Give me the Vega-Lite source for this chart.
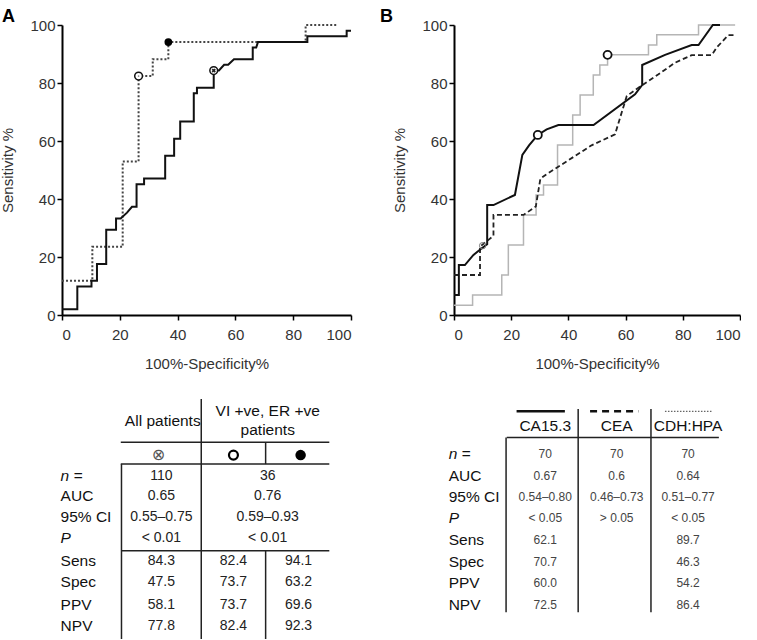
{
  "$schema": "https://vega.github.io/schema/vega-lite/v6.json",
  "background": "white",
  "padding": {"left": 0, "top": 8, "right": 0, "bottom": 0},
  "config": {
    "view": {"stroke": null},
    "font": "Liberation Sans",
    "axis": {
      "domainColor": "#000", "domainWidth": 2, "tickColor": "#000", "tickWidth": 1.5, "tickSize": 5,
      "labelFont": "Liberation Sans", "labelFontSize": 15, "labelColor": "#333", "labelPadding": 2,
      "titleFont": "Liberation Sans", "titleFontSize": 15, "titleFontWeight": "normal", "titleColor": "#333",
      "grid": false
    },
    "title": {"font": "Liberation Sans", "fontSize": 18, "fontWeight": "bold", "color": "#000", "anchor": "start", "frame": "group", "offset": 2, "dy": 10}
  },
  "datasets": {
    "rocA": [
      {"s":"all","o":1,"x":0,"y":2.0},{"s":"all","o":2,"x":5.3,"y":2.0},{"s":"all","o":3,"x":5.3,"y":9.8},{"s":"all","o":4,"x":10.2,"y":9.8},
      {"s":"all","o":5,"x":10.2,"y":11.8},{"s":"all","o":6,"x":12.1,"y":11.8},{"s":"all","o":7,"x":12.1,"y":17.6},{"s":"all","o":8,"x":15.3,"y":17.6},
      {"s":"all","o":9,"x":15.3,"y":29.4},{"s":"all","o":10,"x":18.7,"y":29.4},{"s":"all","o":11,"x":18.7,"y":33.3},{"s":"all","o":12,"x":20.3,"y":33.3},
      {"s":"all","o":13,"x":22.5,"y":35.3},{"s":"all","o":14,"x":24.2,"y":37.3},{"s":"all","o":15,"x":25.8,"y":37.3},{"s":"all","o":16,"x":25.8,"y":45.1},
      {"s":"all","o":17,"x":28.4,"y":45.1},{"s":"all","o":18,"x":28.4,"y":47.1},{"s":"all","o":19,"x":35.7,"y":47.1},{"s":"all","o":20,"x":35.7,"y":54.9},
      {"s":"all","o":21,"x":38.8,"y":54.9},{"s":"all","o":22,"x":38.8,"y":60.8},{"s":"all","o":23,"x":40.9,"y":60.8},{"s":"all","o":24,"x":40.9,"y":66.7},
      {"s":"all","o":25,"x":45.6,"y":66.7},{"s":"all","o":26,"x":45.6,"y":76.5},{"s":"all","o":27,"x":46.7,"y":76.5},{"s":"all","o":28,"x":46.7,"y":78.4},
      {"s":"all","o":29,"x":52.5,"y":78.4},{"s":"all","o":30,"x":52.5,"y":84.3},{"s":"all","o":31,"x":54.3,"y":84.3},{"s":"all","o":32,"x":56.1,"y":86.3},
      {"s":"all","o":33,"x":57.5,"y":86.3},{"s":"all","o":34,"x":59.5,"y":88.2},{"s":"all","o":35,"x":66.0,"y":88.2},{"s":"all","o":36,"x":66.0,"y":92.2},
      {"s":"all","o":37,"x":67.2,"y":92.2},{"s":"all","o":38,"x":67.8,"y":94.1},{"s":"all","o":39,"x":84.9,"y":94.1},{"s":"all","o":40,"x":84.9,"y":96.1},
      {"s":"all","o":41,"x":98.5,"y":96.1},{"s":"all","o":42,"x":98.5,"y":98.0},{"s":"all","o":43,"x":100,"y":98.0},
      {"s":"vi","o":1,"x":0,"y":11.8},{"s":"vi","o":2,"x":10.5,"y":11.8},{"s":"vi","o":3,"x":10.5,"y":23.5},{"s":"vi","o":4,"x":21.0,"y":23.5},
      {"s":"vi","o":5,"x":21.0,"y":52.9},{"s":"vi","o":6,"x":26.5,"y":52.9},{"s":"vi","o":7,"x":26.5,"y":82.4},{"s":"vi","o":8,"x":31.4,"y":82.4},
      {"s":"vi","o":9,"x":31.4,"y":88.2},{"s":"vi","o":10,"x":36.8,"y":88.2},{"s":"vi","o":11,"x":36.8,"y":94.1},{"s":"vi","o":12,"x":84.3,"y":94.1},
      {"s":"vi","o":13,"x":84.3,"y":100},{"s":"vi","o":14,"x":95.3,"y":100}
    ],
    "markA": [
      {"k":"cross","x":52.5,"y":84.3},{"k":"open","x":26.5,"y":82.4},{"k":"fill","x":36.8,"y":94.1}
    ],
    "rocB": [
      {"s":"CA15.3","o":1,"x":0,"y":6.9},{"s":"CA15.3","o":2,"x":1.7,"y":6.9},{"s":"CA15.3","o":3,"x":1.7,"y":17.2},{"s":"CA15.3","o":4,"x":3.8,"y":17.2},
      {"s":"CA15.3","o":5,"x":6.8,"y":20.7},{"s":"CA15.3","o":6,"x":9.7,"y":23.0},{"s":"CA15.3","o":7,"x":11.6,"y":24.4},{"s":"CA15.3","o":8,"x":11.6,"y":37.9},
      {"s":"CA15.3","o":9,"x":13.8,"y":37.9},{"s":"CA15.3","o":10,"x":21.3,"y":41.4},{"s":"CA15.3","o":11,"x":23.9,"y":55.2},{"s":"CA15.3","o":12,"x":26.3,"y":58.6},
      {"s":"CA15.3","o":13,"x":29.3,"y":62.1},{"s":"CA15.3","o":14,"x":32.4,"y":64.0},{"s":"CA15.3","o":15,"x":36.5,"y":65.5},{"s":"CA15.3","o":16,"x":48.8,"y":65.5},
      {"s":"CA15.3","o":17,"x":63.3,"y":76.1},{"s":"CA15.3","o":18,"x":65.8,"y":79.3},{"s":"CA15.3","o":19,"x":65.8,"y":86.2},{"s":"CA15.3","o":20,"x":73.8,"y":89.7},
      {"s":"CA15.3","o":21,"x":83.1,"y":93.1},{"s":"CA15.3","o":22,"x":85.5,"y":93.1},{"s":"CA15.3","o":23,"x":90.5,"y":100},{"s":"CA15.3","o":24,"x":93.0,"y":100},
      {"s":"CEA","o":1,"x":0,"y":13.8},{"s":"CEA","o":2,"x":9.1,"y":13.8},{"s":"CEA","o":3,"x":9.1,"y":23.6},{"s":"CEA","o":4,"x":13.8,"y":27.3},
      {"s":"CEA","o":5,"x":13.8,"y":34.5},{"s":"CEA","o":6,"x":24.3,"y":34.5},{"s":"CEA","o":7,"x":28.6,"y":37.4},{"s":"CEA","o":8,"x":30.2,"y":47.0},
      {"s":"CEA","o":9,"x":32.0,"y":48.3},{"s":"CEA","o":10,"x":48.1,"y":58.5},{"s":"CEA","o":11,"x":56.3,"y":62.3},{"s":"CEA","o":12,"x":60.4,"y":75.5},
      {"s":"CEA","o":13,"x":64.5,"y":78.4},{"s":"CEA","o":14,"x":71.5,"y":83.0},{"s":"CEA","o":15,"x":77.3,"y":87.0},{"s":"CEA","o":16,"x":83.1,"y":89.6},
      {"s":"CEA","o":17,"x":90.1,"y":89.6},{"s":"CEA","o":18,"x":91.9,"y":92.3},{"s":"CEA","o":19,"x":95.9,"y":96.5},{"s":"CEA","o":20,"x":98.3,"y":96.5},
      {"s":"CDH:HPA","o":1,"x":0,"y":3.4},{"s":"CDH:HPA","o":2,"x":6.5,"y":3.4},{"s":"CDH:HPA","o":3,"x":6.5,"y":6.9},{"s":"CDH:HPA","o":4,"x":16.7,"y":6.9},
      {"s":"CDH:HPA","o":5,"x":16.7,"y":13.8},{"s":"CDH:HPA","o":6,"x":19.0,"y":13.8},{"s":"CDH:HPA","o":7,"x":19.0,"y":24.1},{"s":"CDH:HPA","o":8,"x":24.3,"y":24.1},
      {"s":"CDH:HPA","o":9,"x":24.3,"y":34.5},{"s":"CDH:HPA","o":10,"x":28.7,"y":34.5},{"s":"CDH:HPA","o":11,"x":28.7,"y":41.4},{"s":"CDH:HPA","o":12,"x":31.3,"y":41.4},
      {"s":"CDH:HPA","o":13,"x":31.3,"y":44.8},{"s":"CDH:HPA","o":14,"x":36.2,"y":44.8},{"s":"CDH:HPA","o":15,"x":36.2,"y":58.6},{"s":"CDH:HPA","o":16,"x":41.5,"y":58.6},
      {"s":"CDH:HPA","o":17,"x":41.5,"y":69.0},{"s":"CDH:HPA","o":18,"x":44.1,"y":69.0},{"s":"CDH:HPA","o":19,"x":44.1,"y":75.9},{"s":"CDH:HPA","o":20,"x":48.7,"y":75.9},
      {"s":"CDH:HPA","o":21,"x":48.7,"y":82.8},{"s":"CDH:HPA","o":22,"x":51.0,"y":82.8},{"s":"CDH:HPA","o":23,"x":51.0,"y":86.2},{"s":"CDH:HPA","o":24,"x":53.7,"y":86.2},
      {"s":"CDH:HPA","o":25,"x":53.7,"y":89.7},{"s":"CDH:HPA","o":26,"x":68.0,"y":89.7},{"s":"CDH:HPA","o":27,"x":68.0,"y":93.1},{"s":"CDH:HPA","o":28,"x":70.9,"y":93.1},
      {"s":"CDH:HPA","o":29,"x":70.9,"y":96.6},{"s":"CDH:HPA","o":30,"x":85.5,"y":96.6},{"s":"CDH:HPA","o":31,"x":85.5,"y":100},{"s":"CDH:HPA","o":32,"x":98.3,"y":100}
    ],
    "markB": [
      {"k":"open","x":29.3,"y":62.1},{"k":"open","x":53.7,"y":89.7},{"k":"small","x":10.0,"y":23.9}
    ],
    "tA": [
      {"k":"h","c":1.55,"r":1.02,"t":"All patients"},
      {"k":"h","c":3.05,"r":0.55,"t":"VI +ve, ER +ve"},
      {"k":"h","c":3.05,"r":1.44,"t":"patients"},
      {"k":"sym","c":1.49,"r":2.63,"t":"⊗"},
      {"k":"open","c":2.56,"r":2.63,"t":""},
      {"k":"fill","c":3.52,"r":2.63,"t":""},
      {"k":"li","c":0.09,"r":3.6,"t":"n ="},
      {"k":"l","c":0.09,"r":4.56,"t":"AUC"},
      {"k":"l","c":0.09,"r":5.55,"t":"95% CI"},
      {"k":"li","c":0.09,"r":6.53,"t":"P"},
      {"k":"l","c":0.09,"r":7.58,"t":"Sens"},
      {"k":"l","c":0.09,"r":8.59,"t":"Spec"},
      {"k":"l","c":0.09,"r":9.66,"t":"PPV"},
      {"k":"l","c":0.09,"r":10.66,"t":"NPV"},
      {"k":"v","c":1.53,"r":3.6,"t":"110"},{"k":"v","c":3.05,"r":3.6,"t":"36"},
      {"k":"v","c":1.53,"r":4.56,"t":"0.65"},{"k":"v","c":3.05,"r":4.56,"t":"0.76"},
      {"k":"v","c":1.53,"r":5.55,"t":"0.55–0.75"},{"k":"v","c":3.05,"r":5.55,"t":"0.59–0.93"},
      {"k":"v","c":1.53,"r":6.53,"t":"< 0.01"},{"k":"v","c":3.05,"r":6.53,"t":"< 0.01"},
      {"k":"v","c":1.53,"r":7.58,"t":"84.3"},{"k":"v","c":2.56,"r":7.58,"t":"82.4"},{"k":"v","c":3.49,"r":7.58,"t":"94.1"},
      {"k":"v","c":1.53,"r":8.59,"t":"47.5"},{"k":"v","c":2.56,"r":8.59,"t":"73.7"},{"k":"v","c":3.49,"r":8.59,"t":"63.2"},
      {"k":"v","c":1.53,"r":9.66,"t":"58.1"},{"k":"v","c":2.56,"r":9.66,"t":"73.7"},{"k":"v","c":3.49,"r":9.66,"t":"69.6"},
      {"k":"v","c":1.53,"r":10.66,"t":"77.8"},{"k":"v","c":2.56,"r":10.66,"t":"82.4"},{"k":"v","c":3.49,"r":10.66,"t":"92.3"}
    ],
    "ruleA": [
      {"c":2.10,"c2":2.10,"r":0,"r2":11.25},
      {"c":0.95,"c2":3.93,"r":2.03,"r2":2.03},
      {"c":3.02,"c2":3.02,"r":2.03,"r2":3.05},
      {"c":0.95,"c2":3.93,"r":3.05,"r2":3.05},
      {"c":0.96,"c2":0.96,"r":3.05,"r2":11.25},
      {"c":0.96,"c2":3.93,"r":7.11,"r2":7.11},
      {"c":3.02,"c2":3.02,"r":7.11,"r2":11.25}
    ],
    "tB": [
      {"k":"h","c":1.48,"r":1.25,"t":"CA15.3"},
      {"k":"h","c":2.5,"r":1.25,"t":"CEA"},
      {"k":"h","c":3.52,"r":1.25,"t":"CDH:HPA"},
      {"k":"li","c":0.1,"r":2.58,"t":"n ="},
      {"k":"l","c":0.1,"r":3.6,"t":"AUC"},
      {"k":"l","c":0.1,"r":4.58,"t":"95% CI"},
      {"k":"li","c":0.1,"r":5.59,"t":"P"},
      {"k":"l","c":0.1,"r":6.61,"t":"Sens"},
      {"k":"l","c":0.1,"r":7.63,"t":"Spec"},
      {"k":"l","c":0.1,"r":8.64,"t":"PPV"},
      {"k":"l","c":0.1,"r":9.66,"t":"NPV"},
      {"k":"v","c":1.48,"r":2.58,"t":"70"},{"k":"v","c":2.5,"r":2.58,"t":"70"},{"k":"v","c":3.52,"r":2.58,"t":"70"},
      {"k":"v","c":1.48,"r":3.6,"t":"0.67"},{"k":"v","c":2.5,"r":3.6,"t":"0.6"},{"k":"v","c":3.52,"r":3.6,"t":"0.64"},
      {"k":"v","c":1.48,"r":4.58,"t":"0.54–0.80"},{"k":"v","c":2.5,"r":4.58,"t":"0.46–0.73"},{"k":"v","c":3.52,"r":4.58,"t":"0.51–0.77"},
      {"k":"v","c":1.48,"r":5.59,"t":"< 0.05"},{"k":"v","c":2.5,"r":5.59,"t":"> 0.05"},{"k":"v","c":3.52,"r":5.59,"t":"< 0.05"},
      {"k":"v","c":1.48,"r":6.61,"t":"62.1"},{"k":"v","c":3.52,"r":6.61,"t":"89.7"},
      {"k":"v","c":1.48,"r":7.63,"t":"70.7"},{"k":"v","c":3.52,"r":7.63,"t":"46.3"},
      {"k":"v","c":1.48,"r":8.64,"t":"60.0"},{"k":"v","c":3.52,"r":8.64,"t":"54.2"},
      {"k":"v","c":1.48,"r":9.66,"t":"72.5"},{"k":"v","c":3.52,"r":9.66,"t":"86.4"}
    ],
    "ruleB": [
      {"k":"grid","c":0.92,"c2":0.92,"r":1.8,"r2":10.0},
      {"k":"grid","c":1.95,"c2":1.95,"r":0.47,"r2":10.0},
      {"k":"grid","c":2.99,"c2":2.99,"r":0.47,"r2":10.0},
      {"k":"grid","c":0.93,"c2":3.96,"r":1.8,"r2":1.8},
      {"k":"solid","c":1.07,"c2":1.76,"r":0.58,"r2":0.58},
      {"k":"dashed","c":2.12,"c2":2.81,"r":0.58,"r2":0.58},
      {"k":"dotted","c":3.19,"c2":3.86,"r":0.58,"r2":0.58}
    ]
  },
  "bounds": "flush",
  "columns": 2,
  "spacing": {"row": 84, "column": 103},
  "concat": [
    {
      "width": 289, "height": 290,
      "title": {"text": "A", "dx": -60},
      "encoding": {
        "x": {"field": "x", "type": "quantitative", "scale": {"domain": [0, 100], "nice": false}, "axis": {"values": [0,20,40,60,80,100], "title": "100%-Specificity%", "labelPadding": 7, "titlePadding": 14}},
        "y": {"field": "y", "type": "quantitative", "scale": {"domain": [0, 100], "nice": false}, "axis": {"values": [0,20,40,60,80,100], "title": "Sensitivity %", "titlePadding": 14}}
      },
      "layer": [
        {"data": {"name": "rocA"}, "transform": [{"filter": "datum.s=='vi'"}], "mark": {"type": "line", "color": "#444", "strokeWidth": 2, "strokeDash": [2, 2]}, "encoding": {"order": {"field": "o", "type": "quantitative"}}},
        {"data": {"name": "rocA"}, "transform": [{"filter": "datum.s=='all'"}], "mark": {"type": "line", "color": "#111", "strokeWidth": 2}, "encoding": {"order": {"field": "o", "type": "quantitative"}}},
        {"data": {"name": "markA"}, "transform": [{"filter": "datum.k!='fill'"}], "mark": {"type": "point", "shape": "circle", "filled": true, "fill": "white", "stroke": "#111", "strokeWidth": 1.5, "size": 60, "opacity": 1}},
        {"data": {"name": "markA"}, "transform": [{"filter": "datum.k=='fill'"}], "mark": {"type": "point", "shape": "circle", "filled": true, "fill": "#000", "size": 60, "opacity": 1}},
        {"data": {"name": "markA"}, "transform": [{"filter": "datum.k=='cross'"}], "mark": {"type": "point", "shape": "cross", "angle": 45, "filled": true, "fill": "#222", "size": 18, "opacity": 1}},
        {"data": {"name": "markA"}, "transform": [{"filter": "datum.k=='open'"}], "mark": {"type": "point", "shape": "circle", "filled": true, "fill": "#888", "size": 3, "opacity": 1}}
      ]
    },
    {
      "width": 286, "height": 290,
      "title": {"text": "B", "dx": -74},
      "encoding": {
        "x": {"field": "x", "type": "quantitative", "scale": {"domain": [0, 100], "nice": false}, "axis": {"values": [0,20,40,60,80,100], "title": "100%-Specificity%", "labelPadding": 7, "titlePadding": 14}},
        "y": {"field": "y", "type": "quantitative", "scale": {"domain": [0, 100], "nice": false}, "axis": {"values": [0,20,40,60,80,100], "title": "Sensitivity %", "titlePadding": 14}}
      },
      "layer": [
        {"data": {"name": "rocB"}, "transform": [{"filter": "datum.s=='CDH:HPA'"}], "mark": {"type": "line", "color": "#b5b5b5", "strokeWidth": 1.5}, "encoding": {"order": {"field": "o", "type": "quantitative"}}},
        {"data": {"name": "rocB"}, "transform": [{"filter": "datum.s=='CEA'"}], "mark": {"type": "line", "color": "#222", "strokeWidth": 1.8, "strokeDash": [5, 3]}, "encoding": {"order": {"field": "o", "type": "quantitative"}}},
        {"data": {"name": "rocB"}, "transform": [{"filter": "datum.s=='CA15.3'"}], "mark": {"type": "line", "color": "#111", "strokeWidth": 2}, "encoding": {"order": {"field": "o", "type": "quantitative"}}},
        {"data": {"name": "markB"}, "transform": [{"filter": "datum.k=='open'"}], "mark": {"type": "point", "shape": "circle", "filled": true, "fill": "white", "stroke": "#111", "strokeWidth": 1.8, "size": 65, "opacity": 1}},
        {"data": {"name": "markB"}, "transform": [{"filter": "datum.k=='small'"}], "mark": {"type": "point", "shape": "circle", "filled": false, "stroke": "#777", "strokeWidth": 1, "size": 40, "opacity": 1}}
      ]
    },
    {
      "width": 289, "height": 240,
      "data": {"name": "tA"},
      "encoding": {
        "x": {"field": "c", "type": "quantitative", "scale": {"domain": [0.11, 4.24], "nice": false, "zero": false}, "axis": null},
        "y": {"field": "r", "type": "quantitative", "scale": {"domain": [0, 11.25], "reverse": true, "nice": false, "zero": false}, "axis": null}
      },
      "layer": [
        {"data": {"name": "ruleA"}, "mark": {"type": "rule", "color": "#222", "strokeWidth": 1.5}, "encoding": {"x2": {"field": "c2"}, "y2": {"field": "r2"}}},
        {"transform": [{"filter": "datum.k=='h'"}], "mark": {"type": "text", "fontSize": 15.5, "color": "#111", "align": "center", "baseline": "middle"}, "encoding": {"text": {"field": "t"}}},
        {"transform": [{"filter": "datum.k=='l'"}], "mark": {"type": "text", "fontSize": 15.5, "color": "#111", "align": "left", "baseline": "middle"}, "encoding": {"text": {"field": "t"}}},
        {"transform": [{"filter": "datum.k=='li'"}], "mark": {"type": "text", "fontSize": 15.5, "fontStyle": "italic", "color": "#111", "align": "left", "baseline": "middle"}, "encoding": {"text": {"field": "t"}}},
        {"transform": [{"filter": "datum.k=='v'"}], "mark": {"type": "text", "fontSize": 14, "color": "#222", "align": "center", "baseline": "middle"}, "encoding": {"text": {"field": "t"}}},
        {"transform": [{"filter": "datum.k=='sym'"}], "mark": {"type": "text", "font": "DejaVu Sans", "fontSize": 16, "color": "#555", "align": "center", "baseline": "middle"}, "encoding": {"text": {"field": "t"}}},
        {"transform": [{"filter": "datum.k=='open'"}], "mark": {"type": "point", "shape": "circle", "filled": true, "fill": "white", "stroke": "#000", "strokeWidth": 2.2, "size": 80, "opacity": 1}},
        {"transform": [{"filter": "datum.k=='fill'"}], "mark": {"type": "point", "shape": "circle", "filled": true, "fill": "#000", "size": 110, "opacity": 1}}
      ]
    },
    {
      "width": 286, "height": 240,
      "data": {"name": "tB"},
      "encoding": {
        "x": {"field": "c", "type": "quantitative", "scale": {"domain": [0.176, 4.262], "nice": false, "zero": false}, "axis": null},
        "y": {"field": "r", "type": "quantitative", "scale": {"domain": [0, 11.25], "reverse": true, "nice": false, "zero": false}, "axis": null}
      },
      "layer": [
        {"data": {"name": "ruleB"}, "transform": [{"filter": "datum.k=='grid'"}], "mark": {"type": "rule", "color": "#222", "strokeWidth": 1.5}, "encoding": {"x2": {"field": "c2"}, "y2": {"field": "r2"}}},
        {"data": {"name": "ruleB"}, "transform": [{"filter": "datum.k=='solid'"}], "mark": {"type": "rule", "color": "#111", "strokeWidth": 2.5}, "encoding": {"x2": {"field": "c2"}, "y2": {"field": "r2"}}},
        {"data": {"name": "ruleB"}, "transform": [{"filter": "datum.k=='dashed'"}], "mark": {"type": "rule", "color": "#111", "strokeWidth": 2.5, "strokeDash": [7, 5]}, "encoding": {"x2": {"field": "c2"}, "y2": {"field": "r2"}}},
        {"data": {"name": "ruleB"}, "transform": [{"filter": "datum.k=='dotted'"}], "mark": {"type": "rule", "color": "#666", "strokeWidth": 1.2, "strokeDash": [1.5, 1.5]}, "encoding": {"x2": {"field": "c2"}, "y2": {"field": "r2"}}},
        {"transform": [{"filter": "datum.k=='h'"}], "mark": {"type": "text", "fontSize": 15.5, "color": "#111", "align": "center", "baseline": "middle"}, "encoding": {"text": {"field": "t"}}},
        {"transform": [{"filter": "datum.k=='l'"}], "mark": {"type": "text", "fontSize": 15.5, "color": "#111", "align": "left", "baseline": "middle"}, "encoding": {"text": {"field": "t"}}},
        {"transform": [{"filter": "datum.k=='li'"}], "mark": {"type": "text", "fontSize": 15.5, "fontStyle": "italic", "color": "#111", "align": "left", "baseline": "middle"}, "encoding": {"text": {"field": "t"}}},
        {"transform": [{"filter": "datum.k=='v'"}], "mark": {"type": "text", "fontSize": 12, "color": "#444", "align": "center", "baseline": "middle"}, "encoding": {"text": {"field": "t"}}}
      ]
    }
  ]
}
